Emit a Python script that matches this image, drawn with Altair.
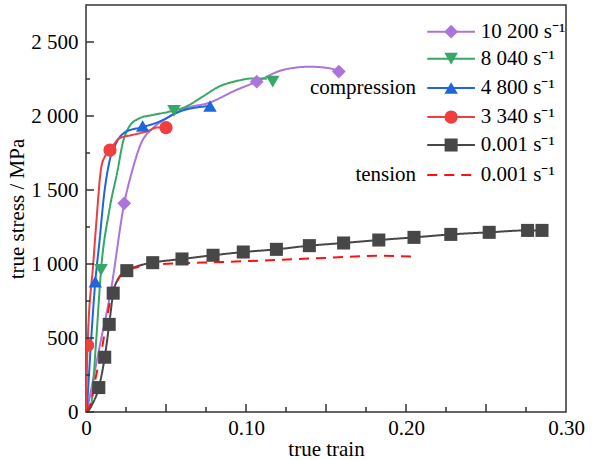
import altair as alt
import pandas as pd

# ---------------- data ----------------
# 10 200 s^-1 (compression)
p_x = [0.0005, 0.0083, 0.0156, 0.0239, 0.029, 0.0344, 0.0417, 0.052, 0.0625, 0.077, 0.094, 0.1067, 0.123, 0.140, 0.1525, 0.158]
p_y = [0, 430, 824, 1410, 1635, 1815, 1916, 1995, 2052, 2090, 2176, 2232, 2311, 2333, 2322, 2300]
p_mx = [0.0239, 0.1067, 0.158]
p_my = [1410, 2232, 2300]

# 8 040 s^-1
g_x = [0.0005, 0.003, 0.00625, 0.0094, 0.0146, 0.0198, 0.0229, 0.027, 0.0333, 0.0417, 0.052, 0.0625, 0.0729, 0.083, 0.094, 0.1046, 0.113]
g_y = [0, 36, 466, 960, 1364, 1635, 1815, 1928, 1984, 2007, 2029, 2063, 2131, 2198, 2236, 2254, 2252]
g_mx = [0.0094, 0.055, 0.1167]
g_my = [960, 2035, 2232]

# 4 800 s^-1
b_x = [0.0005, 0.003, 0.0058, 0.0083, 0.0114, 0.0146, 0.0188, 0.025, 0.0354, 0.0458, 0.0583, 0.0775]
b_y = [0, 450, 880, 1140, 1477, 1690, 1815, 1894, 1925, 1962, 2029, 2068]
b_mx = [0.0058, 0.0354, 0.0775]
b_my = [880, 1932, 2068]

# 3 340 s^-1
r_x = [0.0, 0.001, 0.0045, 0.00625, 0.0095, 0.012, 0.015, 0.0208, 0.029, 0.0375, 0.0448, 0.05]
r_y = [0, 450, 1000, 1252, 1650, 1730, 1770, 1849, 1872, 1894, 1923, 1921]
r_mx = [0.001, 0.015, 0.05]
r_my = [450, 1770, 1921]

# 0.001 s^-1 compression
k_x = [0.0005, 0.0042, 0.008, 0.0117, 0.0145, 0.017, 0.0205, 0.0255, 0.032, 0.0417, 0.060, 0.0794, 0.0983, 0.119, 0.1396, 0.161, 0.183, 0.205, 0.228, 0.252, 0.276, 0.285]
k_y = [0, 58, 165, 370, 592, 803, 905, 955, 985, 1009, 1034, 1059, 1081, 1099, 1124, 1142, 1162, 1180, 1200, 1214, 1227, 1227]
k_mx = [0.008, 0.0117, 0.0145, 0.017, 0.0255, 0.0417, 0.060, 0.0794, 0.0983, 0.119, 0.1396, 0.161, 0.183, 0.205, 0.228, 0.252, 0.276, 0.285]
k_my = [165, 370, 592, 803, 955, 1009, 1034, 1059, 1081, 1099, 1124, 1142, 1162, 1180, 1200, 1214, 1227, 1227]

# 0.001 s^-1 tension
t_x = [0.0, 0.003, 0.006, 0.0095, 0.0125, 0.0156, 0.0208, 0.026, 0.035, 0.042, 0.059, 0.08, 0.1025, 0.13, 0.154, 0.182, 0.205]
t_y = [0, 60, 230, 400, 590, 780, 910, 955, 985, 995, 1005, 1012, 1020, 1033, 1043, 1056, 1050]

series_ids = ["c10200", "c8040", "c4800", "c3340", "c0001", "t0001"]
series_labels = ["10 200 s⁻¹", "8 040 s⁻¹", "4 800 s⁻¹", "3 340 s⁻¹", "0.001 s⁻¹", "0.001 s⁻¹"]
series_colors = ["#AC72DD", "#36A866", "#1D66DD", "#EE3E3E", "#474747", "#FF1010"]
series_dash = [[1, 0], [1, 0], [1, 0], [1, 0], [1, 0], [10, 7]]
marker_shapes = ["diamond", "triangle-down", "triangle-up", "circle", "square", "square"]
marker_sizes = [190, 165, 165, 140, 120, 120]

y_ticks_major = [0, 500, 1000, 1500, 2000, 2500]
y_ticks_minor = [250, 750, 1250, 1750, 2250]
x_ticks_major = [0.05, 0.10, 0.15, 0.20, 0.25]
x_ticks_minor = [0.025, 0.075, 0.125, 0.175, 0.225, 0.275]
x_labels = [0, 0.1, 0.2, 0.3]

# legend placement (data units)
leg_rows_y = [2570, 2387, 2189, 1993, 1804, 1601]
leg_x1, leg_x2, leg_xm, leg_tx = 0.2133, 0.2431, 0.2282, 0.2467
side_x = 0.2063

# ---------------- tables ----------------
curves = [(p_x, p_y), (g_x, g_y), (b_x, b_y), (r_x, r_y), (k_x, k_y), (t_x, t_y)]
rows = []
for sid, (xs, ys) in zip(series_ids, curves):
    for a, b in zip(xs, ys):
        rows.append({"series": sid, "strain": a, "stress": b})
lines_df = pd.DataFrame(rows)

marks = [(p_mx, p_my), (g_mx, g_my), (b_mx, b_my), (r_mx, r_my), (k_mx, k_my)]
mrows = []
for sid, (xs, ys) in zip(series_ids, marks):
    for a, b in zip(xs, ys):
        mrows.append({"series": sid, "strain": a, "stress": b})
marks_df = pd.DataFrame(mrows)

leg_df = pd.DataFrame({
    "series": series_ids,
    "label": series_labels,
    "ly": leg_rows_y,
    "x1": [leg_x1] * 6,
    "x2": [leg_x2] * 6,
    "xm": [leg_xm] * 6,
    "tx": [leg_tx] * 6,
})
side_df = pd.DataFrame({"label": ["compression", "tension"], "ly": [leg_rows_y[2], leg_rows_y[5]], "tx": [side_x, side_x]})

W, H = 480, 407
FONT = "Liberation Serif, Times New Roman, serif"
FS = 21

xs = alt.Scale(domain=[0, 0.3], nice=False, zero=False)
ys = alt.Scale(domain=[0, 2750], nice=False, zero=False)
col = alt.Scale(domain=series_ids, range=series_colors)
dash = alt.Scale(domain=series_ids, range=series_dash)
shp = alt.Scale(domain=series_ids, range=marker_shapes)
siz = alt.Scale(domain=series_ids, range=marker_sizes)

x_axis = alt.Axis(values=x_labels, ticks=False, domain=False, grid=False, labelFlush=False,
                  labelExpr="datum.value == 0 ? '0' : format(datum.value, '.2f')",
                  labelPadding=5, title="true train", titlePadding=0)
y_axis = alt.Axis(values=y_ticks_major, ticks=False, domain=False, grid=False, labelFlush=False,
                  labelExpr="replace(format(datum.value, ','), ',', ' ')",
                  labelPadding=8, title="true stress / MPa", titlePadding=3)

lines = alt.Chart(lines_df).mark_line(strokeWidth=2, interpolate="monotone", clip=True).encode(
    x=alt.X("strain:Q", scale=xs, axis=x_axis),
    y=alt.Y("stress:Q", scale=ys, axis=y_axis),
    color=alt.Color("series:N", scale=col, legend=None),
    strokeDash=alt.StrokeDash("series:N", scale=dash, legend=None),
)

points = alt.Chart(marks_df).mark_point(filled=True, opacity=1, clip=True).encode(
    x=alt.X("strain:Q", scale=xs),
    y=alt.Y("stress:Q", scale=ys),
    color=alt.Color("series:N", scale=col, legend=None),
    shape=alt.Shape("series:N", scale=shp, legend=None),
    size=alt.Size("series:N", scale=siz, legend=None),
)

leg_lines = alt.Chart(leg_df).mark_rule(strokeWidth=2).encode(
    x=alt.X("x1:Q", scale=xs), x2="x2:Q", y=alt.Y("ly:Q", scale=ys),
    color=alt.Color("series:N", scale=col, legend=None),
    strokeDash=alt.StrokeDash("series:N", scale=dash, legend=None),
)
leg_pts = alt.Chart(leg_df).transform_filter("datum.series != 't0001'").mark_point(filled=True, opacity=1).encode(
    x=alt.X("xm:Q", scale=xs), y=alt.Y("ly:Q", scale=ys),
    color=alt.Color("series:N", scale=col, legend=None),
    shape=alt.Shape("series:N", scale=shp, legend=None),
    size=alt.Size("series:N", scale=siz, legend=None),
)
leg_txt = alt.Chart(leg_df).mark_text(align="left", baseline="middle", font=FONT, fontSize=FS, color="black").encode(
    x=alt.X("tx:Q", scale=xs), y=alt.Y("ly:Q", scale=ys), text="label:N",
)
side_txt = alt.Chart(side_df).mark_text(align="right", baseline="middle", font=FONT, fontSize=FS, color="black").encode(
    x=alt.X("tx:Q", scale=xs), y=alt.Y("ly:Q", scale=ys), text="label:N",
)

tick_color = "#333333"
ytm = alt.Chart(pd.DataFrame({"v": y_ticks_major})).mark_rule(color=tick_color, strokeWidth=1.5).encode(
    y=alt.Y("v:Q", scale=ys), x=alt.value(0), x2=alt.value(8))
ytn = alt.Chart(pd.DataFrame({"v": y_ticks_minor})).mark_rule(color=tick_color, strokeWidth=1.5).encode(
    y=alt.Y("v:Q", scale=ys), x=alt.value(0), x2=alt.value(4))
xtm = alt.Chart(pd.DataFrame({"v": x_ticks_major})).mark_rule(color=tick_color, strokeWidth=1.5).encode(
    x=alt.X("v:Q", scale=xs), y=alt.value(H), y2=alt.value(H - 8))
xtn = alt.Chart(pd.DataFrame({"v": x_ticks_minor})).mark_rule(color=tick_color, strokeWidth=1.5).encode(
    x=alt.X("v:Q", scale=xs), y=alt.value(H), y2=alt.value(H - 5))

chart = alt.layer(
    lines, points, leg_lines, leg_pts, leg_txt, side_txt, ytm, ytn, xtm, xtn
).properties(
    width=W, height=H,
    autosize=alt.AutoSizeParams(type="none"),
    padding={"left": 86, "top": 5, "right": 43, "bottom": 48},
).configure_view(
    stroke="#333333", strokeWidth=1.5
).configure_axis(
    labelFont=FONT, labelFontSize=FS, labelColor="black",
    titleFont=FONT, titleFontSize=FS, titleFontWeight="normal", titleColor="black",
)

chart.save("out.html", embed_options={"renderer": "svg", "actions": False})
